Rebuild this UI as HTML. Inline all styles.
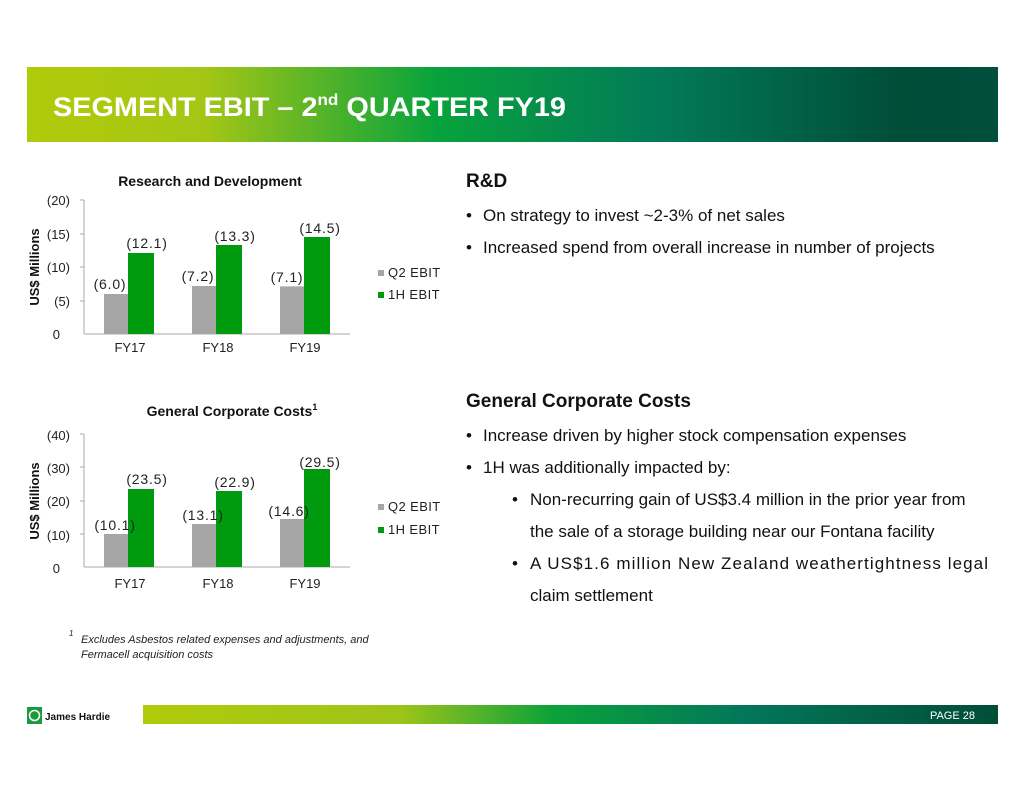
<!DOCTYPE html>
<html><head><meta charset="utf-8"><style>
body{margin:0;background:#fff;}
svg{display:block;font-family:"Liberation Sans",Arial,sans-serif;}
</style></head><body>
<svg width="1024" height="791" viewBox="0 0 1024 791">
<defs>
<linearGradient id="g" x1="0" x2="1" y1="0" y2="0">
<stop offset="0" stop-color="#b0cb0a"/><stop offset="0.18" stop-color="#a6c615"/>
<stop offset="0.42" stop-color="#08a33c"/><stop offset="0.65" stop-color="#027a58"/>
<stop offset="0.9" stop-color="#004d38"/><stop offset="1" stop-color="#004f3c"/>
</linearGradient>
<linearGradient id="g2" x1="0" x2="1" y1="0" y2="0">
<stop offset="0" stop-color="#b0cb0a"/><stop offset="0.3" stop-color="#9ec41a"/>
<stop offset="0.48" stop-color="#0aa23a"/><stop offset="0.7" stop-color="#03775a"/>
<stop offset="1" stop-color="#004d38"/>
</linearGradient>
</defs>
<rect x="27" y="67" width="971" height="75" fill="url(#g)"/>
<text x="53" y="116" fill="#fff" font-size="27" font-weight="bold" textLength="513" lengthAdjust="spacingAndGlyphs">SEGMENT EBIT – 2<tspan font-size="16" dy="-11">nd</tspan><tspan dy="11"> QUARTER FY19</tspan></text>

<!-- chart 1 -->
<text x="210" y="186" text-anchor="middle" font-size="14" font-weight="bold" fill="#111">Research and Development</text>
<g font-size="13" fill="#222" text-anchor="end">
<text x="70" y="205">(20)</text><text x="70" y="239">(15)</text><text x="70" y="272">(10)</text><text x="70" y="306">(5)</text><text x="60" y="339">0</text>
</g>
<line x1="84" y1="200" x2="84" y2="334" stroke="#aaa"/>
<g stroke="#aaa"><line x1="80" y1="200" x2="84" y2="200"/><line x1="80" y1="234" x2="84" y2="234"/><line x1="80" y1="267" x2="84" y2="267"/><line x1="80" y1="301" x2="84" y2="301"/></g>
<line x1="84" y1="334" x2="350" y2="334" stroke="#aaa"/>
<text transform="translate(39,267) rotate(-90)" text-anchor="middle" font-size="13" font-weight="bold" fill="#111">US$ Millions</text>
<g fill="#a5a5a5"><rect x="104" y="294" width="24" height="40"/><rect x="192" y="286" width="24" height="48"/><rect x="280" y="286.4" width="24" height="47.6"/></g>
<g fill="#009a0e"><rect x="128" y="253" width="26" height="81"/><rect x="216" y="245" width="26" height="89"/><rect x="304" y="237" width="26" height="97"/></g>
<g font-size="14" fill="#222" text-anchor="middle" letter-spacing="0.8">
<text x="110" y="289">(6.0)</text><text x="147" y="248">(12.1)</text><text x="198" y="281">(7.2)</text><text x="235" y="241">(13.3)</text><text x="287" y="282">(7.1)</text><text x="320" y="233">(14.5)</text>
</g>
<g font-size="13" fill="#222" text-anchor="middle">
<text x="130" y="352">FY17</text><text x="218" y="352">FY18</text><text x="305" y="352">FY19</text>
</g>
<rect x="378" y="270" width="6" height="6" fill="#a5a5a5"/><text x="388" y="277" font-size="13" fill="#222" letter-spacing="0.4">Q2 EBIT</text>
<rect x="378" y="292" width="6" height="6" fill="#009a0e"/><text x="388" y="299" font-size="13" fill="#222" letter-spacing="0.4">1H EBIT</text>

<!-- chart 2 -->
<text x="232" y="416" text-anchor="middle" font-size="14" font-weight="bold" fill="#111">General Corporate Costs<tspan font-size="9" dy="-6">1</tspan></text>
<g font-size="13" fill="#222" text-anchor="end">
<text x="70" y="440">(40)</text><text x="70" y="473">(30)</text><text x="70" y="506">(20)</text><text x="70" y="540">(10)</text><text x="60" y="573">0</text>
</g>
<line x1="84" y1="434" x2="84" y2="567" stroke="#aaa"/>
<g stroke="#aaa"><line x1="80" y1="434" x2="84" y2="434"/><line x1="80" y1="467" x2="84" y2="467"/><line x1="80" y1="501" x2="84" y2="501"/><line x1="80" y1="534" x2="84" y2="534"/></g>
<line x1="84" y1="567" x2="350" y2="567" stroke="#aaa"/>
<text transform="translate(39,501) rotate(-90)" text-anchor="middle" font-size="13" font-weight="bold" fill="#111">US$ Millions</text>
<g fill="#a5a5a5"><rect x="104" y="534" width="24" height="33"/><rect x="192" y="524" width="24" height="43"/><rect x="280" y="519" width="24" height="48"/></g>
<g fill="#009a0e"><rect x="128" y="489" width="26" height="78"/><rect x="216" y="491" width="26" height="76"/><rect x="304" y="469" width="26" height="98"/></g>
<g font-size="14" fill="#222" text-anchor="middle" letter-spacing="0.8">
<text x="115" y="530">(10.1)</text><text x="147" y="484">(23.5)</text><text x="203" y="520">(13.1)</text><text x="235" y="487">(22.9)</text><text x="289" y="516">(14.6)</text><text x="320" y="467">(29.5)</text>
</g>
<g font-size="13" fill="#222" text-anchor="middle">
<text x="130" y="588">FY17</text><text x="218" y="588">FY18</text><text x="305" y="588">FY19</text>
</g>
<rect x="378" y="504" width="6" height="6" fill="#a5a5a5"/><text x="388" y="511" font-size="13" fill="#222" letter-spacing="0.4">Q2 EBIT</text>
<rect x="378" y="527" width="6" height="6" fill="#009a0e"/><text x="388" y="534" font-size="13" fill="#222" letter-spacing="0.4">1H EBIT</text>

<g font-size="11" font-style="italic" fill="#222">
<text x="69" y="636" font-size="8">1</text>
<text x="81" y="643">Excludes Asbestos related expenses and adjustments, and</text>
<text x="81" y="658">Fermacell acquisition costs</text>
</g>

<!-- right text -->
<g fill="#111" font-size="17">
<text x="466" y="187" font-size="19" font-weight="bold">R&amp;D</text>
<text x="466" y="221">•</text><text x="483" y="221">On strategy to invest ~2-3% of net sales</text>
<text x="466" y="253">•</text><text x="483" y="253">Increased spend from overall increase in number of projects</text>
<text x="466" y="407" font-size="19" font-weight="bold">General Corporate Costs</text>
<text x="466" y="441">•</text><text x="483" y="441">Increase driven by higher stock compensation expenses</text>
<text x="466" y="473">•</text><text x="483" y="473">1H was additionally impacted by:</text>
<text x="512" y="505">•</text><text x="530" y="505">Non-recurring gain of US$3.4 million in the prior year from</text>
<text x="530" y="537">the sale of a storage building near our Fontana facility</text>
<text x="512" y="569">•</text><text x="530" y="569" textLength="458" lengthAdjust="spacing">A US$1.6 million New Zealand weathertightness legal</text>
<text x="530" y="601">claim settlement</text>
</g>

<!-- footer -->
<rect x="27" y="707" width="15" height="17" fill="#1a9a3a"/>
<circle cx="34.5" cy="715.5" r="5" fill="none" stroke="#fff" stroke-width="1.5"/>
<text x="45" y="720" font-size="10" font-weight="bold" fill="#111">James Hardie</text>
<rect x="143" y="705" width="855" height="19" fill="url(#g2)"/>
<text x="975" y="719" text-anchor="end" font-size="11" fill="#fff">PAGE  28</text>
</svg>
</body></html>
